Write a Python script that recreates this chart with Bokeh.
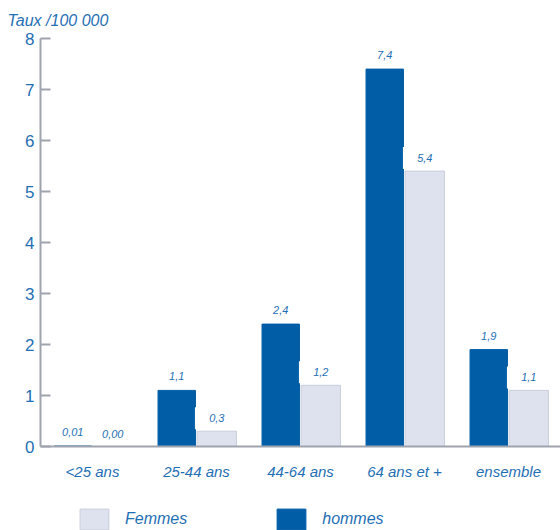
from bokeh.plotting import figure
from bokeh.models import ColumnDataSource, FactorRange, Legend, LegendItem, Title
from bokeh.layouts import column
from bokeh.transform import dodge
from bokeh.core.properties import value
from bokeh.embed import file_html
from bokeh.resources import INLINE

categories = ["<25 ans", "25-44 ans", "44-64 ans", "64 ans et +", "ensemble"]
hommes = [0.01, 1.1, 2.4, 7.4, 1.9]
femmes = [0.00, 0.3, 1.2, 5.4, 1.1]
hommes_lbl = ["0,01", "1,1", "2,4", "7,4", "1,9"]
femmes_lbl = ["0,00", "0,3", "1,2", "5,4", "1,1"]
y_ticks = [0, 1, 2, 3, 4, 5, 6, 7, 8]

BLUE = "#005da6"
LIGHT = "#dde2ee"
TXT = "#1f6fb4"
GREY = "#9ea3ae"
FONT = "Liberation Sans"

PX_PER_UNIT = 51.0
src = ColumnDataSource(dict(
    cat=categories, h=hommes, f=femmes, hl=hommes_lbl, fl=femmes_lbl,
    box_b=[v + 2 / PX_PER_UNIT for v in femmes],
    box_t=[v + 24 / PX_PER_UNIT for v in femmes],
))

p = figure(x_range=FactorRange(*categories, range_padding=0), y_range=(0, 8),
           width=560, height=500, output_backend="svg", toolbar_location=None,
           min_border_left=40, min_border_right=0, min_border_top=38, min_border_bottom=54)
p.outline_line_color = None
p.xgrid.visible = False
p.ygrid.visible = False
p.background_fill_color = "white"
p.border_fill_color = "white"

t = Title(text="Taux /100 000", align="left", text_color=TXT, text_font=FONT,
          text_font_style="italic", text_font_size="16px", offset=-33, standoff=19)
p.add_layout(t, "above")

rh = p.vbar(x=dodge("cat", -0.19, range=p.x_range), top="h", width=0.36, source=src,
            fill_color=BLUE, line_color=BLUE)
rf = p.vbar(x=dodge("cat", 0.195, range=p.x_range), top="f", width=0.38, source=src,
            fill_color=LIGHT, line_color="#c9cedb", line_width=1)
# white label boxes for femmes labels
p.vbar(x=dodge("cat", 0.195, range=p.x_range), bottom="box_b", top="box_t", width=0.42,
       source=src, fill_color="white", line_color=None)

p.text(x=dodge("cat", -0.19, range=p.x_range), y="h", text="hl", source=src,
       text_align="center", text_baseline="middle", y_offset=-14,
       text_color=TXT, text_font=value(FONT), text_font_style="italic", text_font_size="11px")
p.text(x=dodge("cat", 0.195, range=p.x_range), y="f", text="fl", source=src,
       text_align="center", text_baseline="middle", y_offset=-13,
       text_color=TXT, text_font=value(FONT), text_font_style="italic", text_font_size="11px")

ya = p.yaxis[0]
ya.ticker = y_ticks
ya.axis_line_color = GREY
ya.axis_line_width = 2
ya.major_tick_line_color = GREY
ya.major_tick_line_width = 2
ya.major_tick_in = 10
ya.major_tick_out = 0
ya.minor_tick_line_color = None
ya.major_label_text_color = TXT
ya.major_label_text_font = FONT
ya.major_label_text_font_size = "17px"
ya.major_label_standoff = 6

xa = p.xaxis[0]
xa.axis_line_color = GREY
xa.axis_line_width = 2
xa.major_tick_line_color = None
xa.minor_tick_line_color = None
xa.major_label_text_color = TXT
xa.major_label_text_font = FONT
xa.major_label_text_font_style = "italic"
xa.major_label_text_font_size = "15px"
xa.major_label_standoff = 10

# legend strip below the chart (swatch glyphs kept out of view, only legend shows)
lg = figure(width=560, height=30, x_range=(0, 1), y_range=(0, 1),
            output_backend="svg", toolbar_location=None,
            min_border_left=0, min_border_right=0, min_border_top=0, min_border_bottom=0)
lg.axis.visible = False
lg.grid.visible = False
lg.outline_line_color = None
hidden = ColumnDataSource(dict(x=[-10], top=[-10]))
lf = lg.vbar(x="x", top="top", width=0.1, source=hidden, fill_color=LIGHT, line_color="#c9cedb")
lh = lg.vbar(x="x", top="top", width=0.1, source=hidden, fill_color=BLUE, line_color=BLUE)
legend = Legend(items=[LegendItem(label="Femmes", renderers=[lf]),
                       LegendItem(label="hommes", renderers=[lh])],
                orientation="horizontal", location=(36, -2),
                glyph_width=36, glyph_height=26, label_standoff=13, spacing=86,
                padding=0, margin=0, border_line_color=None, background_fill_alpha=0,
                label_text_color=TXT, label_text_font=FONT, label_text_font_style="italic",
                label_text_font_size="16px", label_height=20)
lg.add_layout(legend, "center")

layout = column(p, lg, spacing=0)
open("out.html", "w").write(file_html(layout, INLINE))
